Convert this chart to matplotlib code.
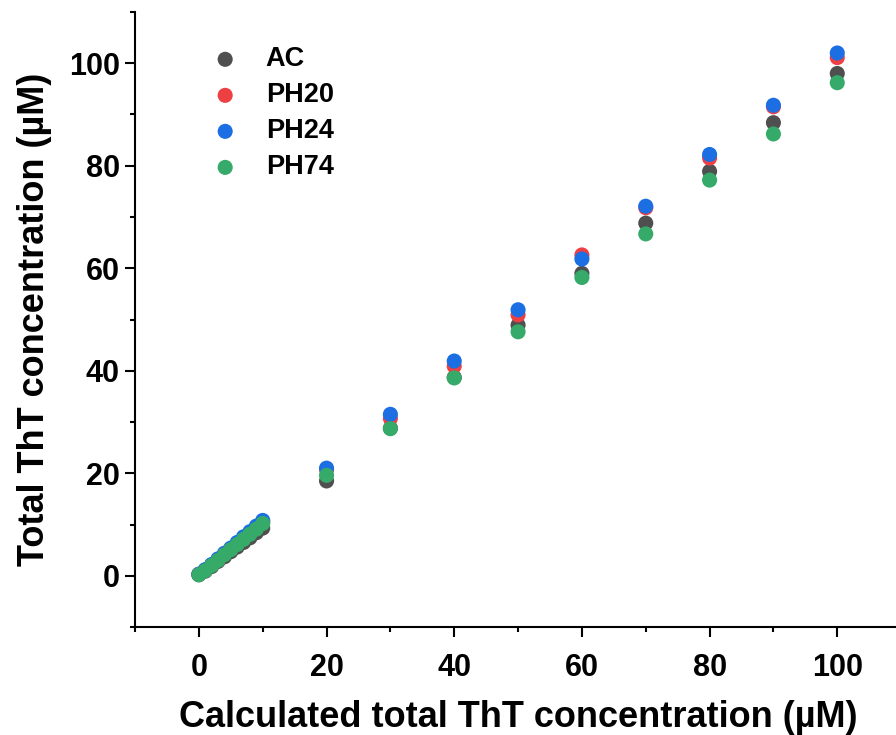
import matplotlib
matplotlib.use('Agg')
import matplotlib.pyplot as plt
from matplotlib.ticker import MultipleLocator

# calculated total ThT (uM)
calc = [0, 1, 2, 3, 4, 5, 6, 7, 8, 9, 10, 20, 30, 40, 50, 60, 70, 80, 90, 100]
ac = [0.2, 0.9, 1.8, 2.8, 3.7, 4.7, 5.6, 6.5, 7.4, 8.4, 9.3, 18.5, 28.8, 38.7, 48.9, 59.0, 68.8, 78.9, 88.4, 98.0]
ph20 = [0.3, 1.1, 2.1, 3.1, 4.2, 5.2, 6.2, 7.3, 8.3, 9.4, 10.5, 20.7, 30.7, 40.9, 50.9, 62.6, 71.8, 81.5, 91.5, 101.1]
ph24 = [0.3, 1.2, 2.2, 3.3, 4.4, 5.4, 6.5, 7.6, 8.6, 9.7, 10.8, 21.0, 31.5, 41.9, 51.9, 61.8, 72.1, 82.2, 91.8, 102.0]
ph74 = [0.2, 1.0, 2.0, 3.0, 4.1, 5.1, 6.1, 7.1, 8.1, 9.1, 10.2, 19.6, 28.7, 38.6, 47.6, 58.2, 66.7, 77.2, 86.2, 96.2]

SERIES = [
    ('AC', ac, '#4f4f4f'),
    ('PH20', ph20, '#ee3f43'),
    ('PH24', ph24, '#1c6fe2'),
    ('PH74', ph74, '#35aa69'),
]

plt.rcParams.update({'font.family': ['Liberation Sans', 'DejaVu Sans'], 'font.weight': 'bold'})

fig = plt.figure(figsize=(8.96, 7.35), dpi=100)
ax = fig.add_axes([0.1507, 0.1469, 0.855, 0.8368])

for label, ys, color in SERIES:
    ax.scatter(calc, ys, s=118, color=color, edgecolors='none', label=label, zorder=3)

ax.set_xlim(-10, 110)
ax.set_ylim(-10, 110)
ax.xaxis.set_major_locator(MultipleLocator(20))
ax.xaxis.set_minor_locator(MultipleLocator(10))
ax.yaxis.set_major_locator(MultipleLocator(20))
ax.yaxis.set_minor_locator(MultipleLocator(10))

for side in ['top', 'right']:
    ax.spines[side].set_visible(False)
for side in ['left', 'bottom']:
    ax.spines[side].set_linewidth(1.5)

ax.tick_params(which='major', direction='out', length=7, width=1.5, labelsize=22)
ax.tick_params(which='minor', direction='out', length=3.5, width=1.5)
ax.tick_params(axis='x', which='major', pad=12)
ax.tick_params(axis='y', which='major', pad=4)
for t in ax.get_xticklabels() + ax.get_yticklabels():
    t.set_fontweight('bold')

ax.set_xlabel('Calculated total ThT concentration (\u00b5M)', fontsize=26, fontweight='bold', labelpad=12)
ax.set_ylabel('Total ThT concentration (\u00b5M)', fontsize=26, fontweight='bold', labelpad=12)

leg = ax.legend(loc='upper left', bbox_to_anchor=(0.1, 0.944), frameon=False, fontsize=19.5,
                borderpad=0, borderaxespad=0, handlelength=1.0, handletextpad=1.0,
                labelspacing=0.37)
for t in leg.get_texts():
    t.set_fontweight('bold')

fig.savefig('out.png', dpi=100)
